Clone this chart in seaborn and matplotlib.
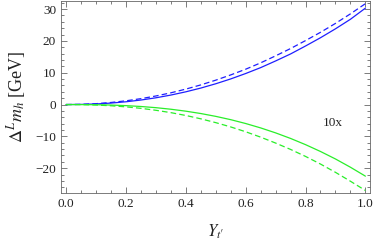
import numpy as np
import matplotlib
matplotlib.use("Agg")
import matplotlib.pyplot as plt
from matplotlib.ticker import MultipleLocator, FormatStrFormatter
import pandas as pd
import seaborn as sns

# Values
y_tp = [0.0, 0.05, 0.1, 0.15, 0.2, 0.25, 0.3, 0.35, 0.4, 0.45, 0.5,
        0.55, 0.6, 0.65, 0.7, 0.75, 0.8, 0.85, 0.9, 0.95, 1.0]
blue_solid = [0.0, 0.04, 0.19, 0.46, 0.87, 1.42, 2.12, 2.98, 4.0, 5.18, 6.53,
              8.05, 9.75, 11.6, 13.7, 15.9, 18.4, 21.0, 23.8, 26.8, 30.3]
blue_dashed = [0.0, 0.07, 0.28, 0.65, 1.17, 1.85, 2.69, 3.68, 4.85, 6.17, 7.66,
               9.31, 11.1, 13.1, 15.3, 17.6, 20.1, 22.7, 25.5, 28.5, 31.7]
green_solid = [0.0, -0.01, -0.06, -0.16, -0.34, -0.61, -0.98, -1.47, -2.08, -2.82, -3.71,
               -4.75, -5.96, -7.34, -8.9, -10.65, -12.6, -14.75, -17.1, -19.7, -22.5]
green_dashed = [0.0, -0.03, -0.15, -0.38, -0.72, -1.19, -1.8, -2.54, -3.43, -4.48, -5.68,
                -7.03, -8.55, -10.24, -12.1, -14.1, -16.3, -18.7, -21.3, -24.1, -27.0]

series = {"blue_solid": blue_solid, "blue_dashed": blue_dashed,
          "green_solid": green_solid, "green_dashed": green_dashed}
df = pd.concat([pd.DataFrame({"x": y_tp, "y": v, "curve": k}) for k, v in series.items()])

sns.set_style("ticks")
plt.rcParams["font.family"] = ["Liberation Serif", "DejaVu Serif"]
plt.rcParams["mathtext.fontset"] = "stix"

fig = plt.figure(figsize=(3.74, 2.46), dpi=100)
ax = fig.add_axes([0.163, 0.2154, 0.826, 0.78])

dash = (0, (4.5, 2.5))
styles = {"blue_solid": ("#1f1fff", "-"), "blue_dashed": ("#1f1fff", dash),
          "green_solid": ("#2aee2a", "-"), "green_dashed": ("#2aee2a", dash)}
for k in series:
    c, ls = styles[k]
    sns.lineplot(data=df[df["curve"] == k], x="x", y="y", color=c, linestyle=ls,
                 linewidth=0.9, ax=ax)

ax.set_xlim(-0.017, 1.015)
ax.set_ylim(-27.8, 32.5)
ax.xaxis.set_major_locator(MultipleLocator(0.2))
ax.xaxis.set_minor_locator(MultipleLocator(0.05))
ax.yaxis.set_major_locator(MultipleLocator(10))
ax.yaxis.set_minor_locator(MultipleLocator(2))
ax.xaxis.set_major_formatter(FormatStrFormatter("%.1f"))
ax.tick_params(which="both", direction="in", top=True, right=True, colors="#666666",
               labelcolor="#222222", labelsize=9.5, width=0.6)
ax.tick_params(which="major", length=4.5)
ax.tick_params(which="minor", length=2.5)
for s in ax.spines.values():
    s.set_color("#666666")
    s.set_linewidth(0.6)

yt = ax.get_yticks()
ax.set_yticks(yt)
ax.set_yticklabels([f"{int(t)}" if t >= 0 else f"\u2212{int(-t)}" for t in yt])
ax.set_ylim(-27.8, 32.5)
ax.set_xlabel("$Y_{t\\prime}$", fontsize=12, labelpad=9, color="#222222")
ax.set_ylabel("$\\Delta^L m_h$ [GeV]", fontsize=13, labelpad=5, color="#222222")
ax.text(0.89, -5.8, "10x", fontsize=9.5, ha="center", va="center", color="#222222")

fig.savefig("out.png", dpi=100)
